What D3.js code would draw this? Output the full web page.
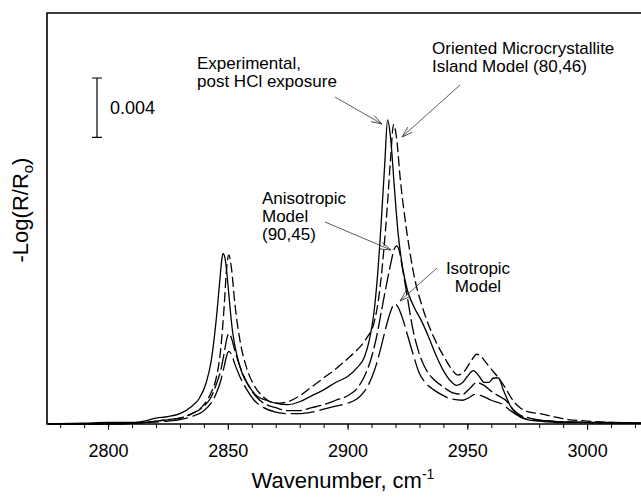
<!DOCTYPE html>
<html>
<head>
<meta charset="utf-8">
<script src="https://cdnjs.cloudflare.com/ajax/libs/d3/7.8.5/d3.min.js"></script>
<style>
  body { margin: 0; background: #fff; }
  text { font-family: "Liberation Sans", Arial, sans-serif; fill: #000; }
</style>
</head>
<body>
<svg id="chart" width="641" height="498"></svg>
<script>
// spectra: [wavenumber (cm-1), -log(R/Ro)]
var experimental = [
  [2775,0],[2790,0.00005],[2800,0.0001],[2810,0.0001],[2815,0.0002],[2820,0.0004],[2825,0.0005],
  [2830,0.0007],[2835,0.0012],[2838,0.0017],[2841,0.0028],[2843,0.0042],[2845,0.0068],[2846.5,0.0094],
  [2847.5,0.0111],[2848,0.0115],[2849,0.0110],[2850,0.0095],[2851,0.0077],[2852,0.0062],[2854,0.0045],
  [2856,0.0034],[2859,0.0025],[2862,0.0019],[2866,0.0016],[2870,0.0014],[2875,0.0013],[2880,0.0015],
  [2885,0.0019],[2890,0.0023],[2895,0.0028],[2900,0.0032],[2904,0.0038],[2907,0.0045],[2909,0.0056],
  [2911,0.0075],[2912.5,0.0100],[2914,0.0135],[2915.5,0.0175],[2916.7,0.0205],[2918,0.0192],
  [2919.5,0.0160],[2921,0.0130],[2923,0.0105],[2925,0.0090],[2928,0.0078],[2931,0.0069],[2934,0.0058],
  [2937,0.0046],[2940,0.0036],[2943,0.0029],[2945.5,0.0026],[2948,0.0028],[2950,0.0032],[2952.5,0.0036],
  [2955,0.0032],[2957,0.0028],[2959,0.0028],[2961,0.0031],[2963,0.0031],[2965,0.0023],[2968,0.0012],
  [2971,0.0006],[2975,0.0003],[2980,0.0002],[2990,0.0001],[3000,0.0001],[3010,0.0001],[3023,0.00005]
];
var oriented = [
  [2775,0],[2800,0],[2815,0.0001],[2820,0.0002],[2830,0.0004],[2835,0.0007],[2840,0.0013],[2843,0.0021],
  [2845,0.0030],[2847,0.0050],[2848.5,0.0080],[2849.5,0.0105],[2850.4,0.0114],[2851.5,0.0105],
  [2853,0.0080],[2855,0.0057],[2858,0.0037],[2861,0.0026],[2865,0.0018],[2870,0.0014],[2875,0.0015],
  [2880,0.0019],[2885,0.0025],[2890,0.0031],[2895,0.0037],[2900,0.0044],[2904,0.0050],[2908,0.0058],
  [2911,0.0068],[2913,0.0085],[2915,0.0115],[2916.5,0.0145],[2918,0.0180],[2919.2,0.0202],
  [2920.5,0.0192],[2922,0.0165],[2924,0.0138],[2926,0.0116],[2928,0.0098],[2931,0.0080],[2934,0.0066],
  [2937,0.0055],[2940,0.0046],[2943,0.0038],[2946,0.0033],[2948.5,0.0035],[2951,0.0041],[2954,0.0047],
  [2956,0.0045],[2958,0.0041],[2960,0.0037],[2963,0.0031],[2966,0.0024],[2969,0.0016],[2972,0.0011],
  [2976,0.0008],[2980,0.0007],[2986,0.0005],[2992,0.0003],[3000,0.0002],[3010,0.0001],[3023,0.00005]
];
var anisotropic = [
  [2775,0],[2800,0],[2815,0.0001],[2825,0.0003],[2830,0.0004],[2835,0.0007],[2840,0.0012],[2843,0.0018],
  [2845,0.0026],[2847,0.0036],[2848.5,0.0048],[2849.5,0.0057],[2850.4,0.0061],[2851.5,0.0058],
  [2853,0.0049],[2855,0.0039],[2858,0.0028],[2861,0.0020],[2865,0.0014],[2870,0.0011],[2875,0.0009],
  [2880,0.0009],[2885,0.0011],[2890,0.0013],[2895,0.0016],[2900,0.0019],[2904,0.0024],[2907,0.0032],
  [2910,0.0045],[2912,0.0058],[2914,0.0075],[2916,0.0092],[2918,0.0108],[2919.5,0.0118],[2920.4,0.0120],
  [2921.5,0.0117],[2923,0.0104],[2925,0.0085],[2927,0.0066],[2930,0.0047],[2933,0.0036],[2936,0.0030],
  [2940,0.0025],[2944,0.0021],[2948,0.0020],[2951,0.0024],[2954,0.0028],[2957,0.0026],[2960,0.0022],
  [2964,0.0018],[2966,0.0016],[2969,0.0010],[2972,0.0006],[2976,0.0004],[2985,0.0002],[3000,0.0001],
  [3023,0.00005]
];
var isotropic = [
  [2775,0],[2800,0],[2815,0.0001],[2825,0.0002],[2830,0.0003],[2835,0.0005],[2840,0.0009],[2843,0.0014],
  [2845,0.0020],[2847,0.0029],[2848.5,0.0039],[2849.5,0.0046],[2850.4,0.0049],[2851.5,0.0047],
  [2853,0.0040],[2855,0.0032],[2858,0.0023],[2861,0.0016],[2865,0.0011],[2870,0.0008],[2875,0.0007],
  [2880,0.0007],[2885,0.0008],[2890,0.0010],[2895,0.0012],[2900,0.0014],[2904,0.0017],[2907,0.0022],
  [2910,0.0031],[2912,0.0040],[2914,0.0052],[2916,0.0065],[2918,0.0076],[2919.6,0.0081],[2921,0.0079],
  [2923,0.0071],[2925,0.0060],[2927,0.0049],[2930,0.0034],[2933,0.0027],[2936,0.0023],[2939,0.0020],
  [2943,0.0017],[2948,0.0016],[2951,0.0018],[2953,0.0020],[2956,0.0019],[2960,0.0016],[2965,0.0013],
  [2968,0.0009],[2972,0.0005],[2976,0.0003],[2985,0.0002],[3000,0.0001],[3023,0.00005]
];

var majorTicks = [2800, 2850, 2900, 2950, 3000];
var minorTicks = d3.range(2780, 3021, 10);
var scaleBarValue = 0.004;

var svg = d3.select('#chart'),
    plotL = 47, plotT = 13, plotR = 641, plotB = 424;

var x = d3.scaleLinear().domain([2774.5, 3022.5]).range([plotL, plotR]);
var y = d3.scaleLinear().domain([0, 0.0277]).range([plotB, plotT]);

var defs = svg.append('defs');
defs.append('clipPath').attr('id', 'plot')
    .append('rect').attr('x', plotL).attr('y', plotT)
    .attr('width', plotR - plotL).attr('height', plotB - plotT + 1);

// arrow head
defs.append('marker')
    .attr('id', 'head')
    .attr('viewBox', '-11 -5 12 10')
    .attr('refX', 0).attr('refY', 0)
    .attr('markerWidth', 12).attr('markerHeight', 10)
    .attr('markerUnits', 'userSpaceOnUse')
    .attr('orient', 'auto')
    .append('path')
    .attr('d', 'M-11,-3.5L0,0L-11,3.5')
    .attr('fill', 'none').attr('stroke', '#333').attr('stroke-width', 0.8);

var line = d3.line()
    .x(function(d){ return x(d[0]); })
    .y(function(d){ return y(d[1]); })
    .curve(d3.curveMonotoneX);

var series = [
    {data: isotropic, dash: '24,5'},
    {data: anisotropic, dash: '16,4'},
    {data: oriented, dash: '10,4'},
    {data: experimental, dash: null}
];

var g = svg.append('g').attr('clip-path', 'url(#plot)');
g.selectAll('.spec')
    .data(series)
    .enter().append('path')
    .attr('class', 'spec')
    .attr('d', function(d){ return line(d.data); })
    .attr('fill', 'none')
    .attr('stroke', '#000')
    .attr('stroke-width', 1.3)
    .attr('stroke-dasharray', function(d){ return d.dash; });

// frame
svg.append('path')
    .attr('d', 'M' + plotR + ',' + plotT + 'H' + plotL + 'V' + plotB + 'H' + plotR)
    .attr('fill', 'none').attr('stroke', '#000').attr('stroke-width', 1.6);

// x axis
var axisG = svg.append('g').attr('transform', 'translate(0,' + plotB + ')');
axisG.call(d3.axisBottom(x).tickValues(minorTicks).tickSize(4).tickFormat(''));
axisG.append('g').call(d3.axisBottom(x).tickValues(majorTicks).tickSize(6).tickPadding(14)
    .tickFormat(d3.format('d')));
axisG.selectAll('.domain').remove();
axisG.selectAll('line').attr('stroke', '#000').attr('stroke-width', 1);
axisG.selectAll('text')
    .attr('font-family', '"Liberation Sans", Arial, sans-serif')
    .attr('font-size', '18px').attr('fill', '#000');

// axis titles
var xt = svg.append('text')
    .attr('x', 343).attr('y', 488)
    .attr('text-anchor', 'middle')
    .attr('font-size', '22px');
xt.append('tspan').text('Wavenumber, cm');
xt.append('tspan').attr('dy', -9).attr('font-size', '14px').text('-1');

var yt = svg.append('text')
    .attr('transform', 'translate(28,210) rotate(-90)')
    .attr('text-anchor', 'middle')
    .attr('font-size', '22px');
yt.append('tspan').text('-Log(R/R');
yt.append('tspan').attr('dy', 5).attr('font-size', '15px').text('o');
yt.append('tspan').attr('dy', -5).text(')');

// scale bar
var barTop = 78, barX = 97;
var barBottom = barTop + (y(0) - y(scaleBarValue));
svg.append('path')
    .attr('d', 'M' + (barX - 5) + ',' + barTop + 'H' + (barX + 5) +
               'M' + barX + ',' + barTop + 'V' + barBottom +
               'M' + (barX - 5) + ',' + barBottom + 'H' + (barX + 5))
    .attr('fill', 'none').attr('stroke', '#000').attr('stroke-width', 1.2);
svg.append('text')
    .attr('x', 110).attr('y', 114)
    .attr('font-size', '18px')
    .text(scaleBarValue.toFixed(3));

// annotations
function label(lines, lx, ly, anchor) {
    var t = svg.append('text').attr('font-size', '17px').attr('text-anchor', anchor || 'start');
    lines.forEach(function(s, i){
        t.append('tspan').attr('x', lx).attr('y', ly + i * 18).text(s);
    });
}
label(['Experimental,', 'post HCl exposure'], 197, 69);
label(['Oriented Microcrystallite', 'Island Model (80,46)'], 432, 54);
label(['Anisotropic', 'Model', '(90,45)'], 262, 204);
label(['Isotropic', 'Model'], 478, 274, 'middle');

function arrow(x1, y1, x2, y2) {
    svg.append('line')
        .attr('x1', x1).attr('y1', y1).attr('x2', x2).attr('y2', y2)
        .attr('stroke', '#333').attr('stroke-width', 0.8)
        .attr('marker-end', 'url(#head)');
}
arrow(335, 97, 382, 124);
arrow(460, 85, 402, 137);
arrow(325, 222, 391, 250);
arrow(437, 268, 400, 301);
</script>
</body>
</html>
